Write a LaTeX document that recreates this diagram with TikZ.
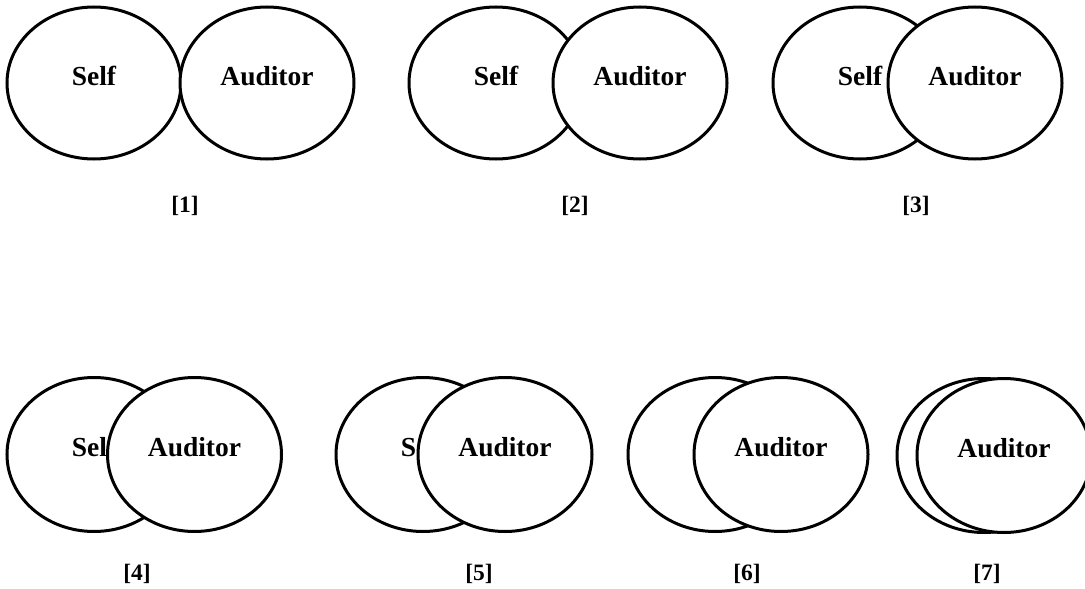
\documentclass[tikz,border=0pt]{standalone}
\usepackage{fontspec}
\setmainfont{Liberation Serif}
\usetikzlibrary{shapes.geometric}
\begin{document}
\begin{tikzpicture}[x=1pt,y=-1pt,
  ell/.style={ellipse,draw=black,fill=white,line width=3pt,inner sep=0pt,
    minimum width=174pt,minimum height=152pt},
  ellb/.style={ell,minimum height=154pt},
  lbl/.style={font=\fontsize{27.5}{30}\selectfont\bfseries,inner sep=0pt},
  num/.style={font=\fontsize{23.5}{26}\selectfont\bfseries,inner sep=0pt}]
\useasboundingbox[fill=white] (0,0) rectangle (1085,589);
% ---- [1]
\node[ell] (s1) at (94,83) {};
\node[lbl] (ts1) at ([yshift=7pt]s1.center) {Self};
\node[ell] (a1) at (267,83) {};
\node[lbl] (ta1) at ([yshift=7pt]a1.center) {Auditor};
\node[num] (n1) at (185,206) {[1]};
% ---- [2]
\node[ell] (s2) at (496,83) {};
\node[lbl] (ts2) at ([yshift=7pt]s2.center) {Self};
\node[ell] (a2) at (640,83) {};
\node[lbl] (ta2) at ([yshift=7pt]a2.center) {Auditor};
\node[num] (n2) at (575,206) {[2]};
% ---- [3]
\node[ell] (s3) at (860,83) {};
\node[lbl] (ts3) at ([yshift=7pt]s3.center) {Self};
\node[ell] (a3) at (975,83) {};
\node[lbl] (ta3) at ([yshift=7pt]a3.center) {Auditor};
\node[num] (n3) at (916,206) {[3]};
% ---- [4]
\node[ellb] (s4) at (94,454.5) {};
\node[lbl] (ts4) at ([yshift=7.5pt]s4.center) {Self};
\node[ellb] (a4) at (194.5,454.5) {};
\node[lbl] (ta4) at ([yshift=7.5pt]a4.center) {Auditor};
\node[num] (n4) at (137,574) {[4]};
% ---- [5]
\node[ellb] (s5) at (423,454.5) {};
\node[lbl] (ts5) at ([yshift=7.5pt]s5.center) {Self};
\node[ellb] (a5) at (505,454.5) {};
\node[lbl] (ta5) at ([yshift=7.5pt]a5.center) {Auditor};
\node[num] (n5) at (479,574) {[5]};
% ---- [6]
\node[ellb] (s6) at (715,454.5) {};
\node[ellb] (a6) at (781,454.5) {};
\node[lbl] (ta6) at ([yshift=7.5pt]a6.center) {Auditor};
\node[num] (n6) at (747,574) {[6]};
% ---- [7]
\node[ellb] (s7) at (984,455.5) {};
\node[ellb] (a7) at (1004,455.5) {};
\node[lbl] (ta7) at ([yshift=7.5pt]a7.center) {Auditor};
\node[num] (n7) at (987,574) {[7]};
\end{tikzpicture}
\end{document}
